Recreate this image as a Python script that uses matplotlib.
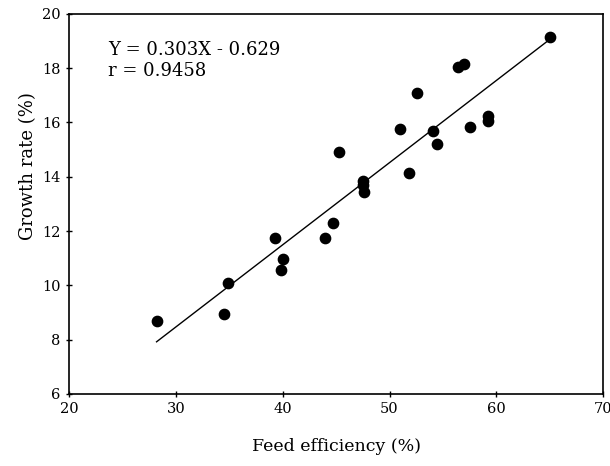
import matplotlib
matplotlib.use("Agg")
import matplotlib.pyplot as plt
import numpy as np

feed_eff = [28.2, 34.5, 34.9, 39.3, 39.8, 40.0, 44.0, 44.7, 45.3, 47.5, 47.5, 47.6,
            51.0, 51.8, 52.6, 54.1, 54.4, 56.4, 57.0, 57.5, 59.2, 59.2, 65.0]
growth = [8.7, 8.95, 10.1, 11.75, 10.55, 10.95, 11.75, 12.3, 14.9, 13.85, 13.7, 13.45,
          15.75, 14.15, 17.1, 15.7, 15.2, 18.05, 18.15, 15.85, 16.25, 16.05, 19.15]
slope = 0.303
intercept = -0.629
fit_x = [28.2, 65.0]

plt.rcParams['font.family'] = ['DejaVu Serif']

fig = plt.figure(figsize=(6.1, 4.66), dpi=100)
ax = fig.add_axes([0.113, 0.155, 0.876, 0.815])

ax.scatter(feed_eff, growth, s=55, color='black', zorder=3)
fx = np.array(fit_x)
ax.plot(fx, slope * fx + intercept, color='black', linewidth=1.0)

ax.set_xlim(20, 70)
ax.set_ylim(6, 20)
ax.set_xticks([20, 30, 40, 50, 60, 70])
ax.set_yticks([6, 8, 10, 12, 14, 16, 18, 20])
ax.tick_params(direction='inout', length=5, width=1, labelsize=10.5)
for sp in ax.spines.values():
    sp.set_linewidth(1.2)

ax.set_xlabel("Feed efficiency (%)", fontsize=12.5, labelpad=16)
ax.set_ylabel("Growth rate (%)", fontsize=13)
ax.yaxis.set_label_coords(-0.06, 0.6)

ax.text(0.073, 0.928, "Y = 0.303X - 0.629\nr = 0.9458", transform=ax.transAxes,
        fontsize=13, va='top', ha='left', linespacing=1.2)

fig.savefig("out.png", dpi=100)
